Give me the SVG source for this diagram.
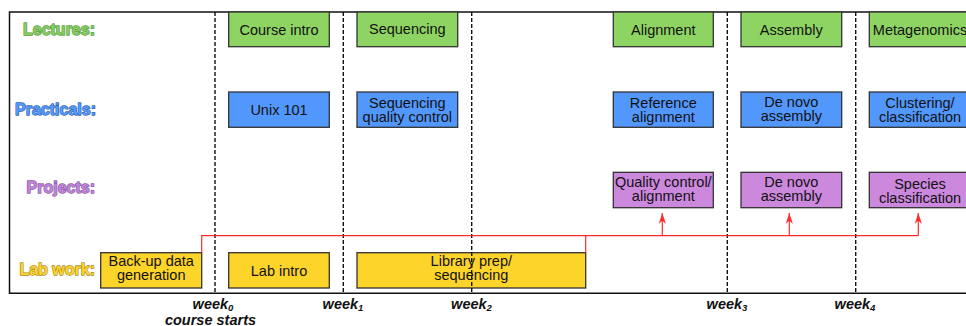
<svg xmlns="http://www.w3.org/2000/svg" width="966" height="326" viewBox="0 0 966 326">
<defs>
<style>
.box{stroke:#333;stroke-width:1.3}
.lec{fill:#8ed462}
.pra{fill:#5297fb}
.proj{fill:#cc88dd}
.lab{fill:#fdd42a}
.bt{font-family:"Liberation Sans",Arial,sans-serif;font-size:14.5px;fill:#111;text-anchor:middle}
.lbl{font-family:"Liberation Sans",Arial,sans-serif;font-size:16px;font-weight:bold;text-anchor:end;stroke-width:1.3;paint-order:stroke;stroke-linejoin:round}
.wk{font-family:"Liberation Sans",Arial,sans-serif;font-size:14.5px;font-weight:bold;font-style:italic;fill:#111;text-anchor:middle}
.dash{stroke:#111;stroke-width:1.4;stroke-dasharray:4 2;fill:none}
.red{stroke:#ff2a2a;stroke-width:1.2;fill:none}
</style>
<marker id="ah" markerUnits="userSpaceOnUse" markerWidth="12" markerHeight="10" viewBox="-11 -5 12 10" refX="0" refY="0" orient="auto">
<path d="M0,0 L-11,-3.6 L-7.5,0 L-11,3.6 Z" fill="#ff2a2a"/>
</marker>
</defs>
<rect width="966" height="326" fill="#fff"/>
<g id="frame"><path d="M975 12 H9.5 V293.3 H975" fill="none" stroke="#111" stroke-width="1.5"/></g>

<g id="row-labels">
<text class="lbl" x="95" y="34.5" fill="#86cc62" stroke="#5a9c3e">Lectures:</text>
<text class="lbl" x="96" y="115" fill="#5599ff" stroke="#3162a8">Practicals:</text>
<text class="lbl" x="95" y="193.3" fill="#c084d8" stroke="#8a58a4">Projects:</text>
<text class="lbl" x="95" y="275" fill="#fdd42a" stroke="#a88a1c">Lab work:</text>
</g>

<g id="n-course-intro"><rect class="box lec" x="228.7" y="12" width="100.6" height="34.7"/><text class="bt" x="279" y="34.5">Course intro</text></g>
<g id="n-sequencing"><rect class="box lec" x="357" y="12" width="100.7" height="34.7"/><text class="bt" x="407.3" y="33.5">Sequencing</text></g>
<g id="n-alignment"><rect class="box lec" x="613.3" y="12" width="100" height="34.7"/><text class="bt" x="663.3" y="34.5">Alignment</text></g>
<g id="n-assembly"><rect class="box lec" x="741" y="12" width="100.7" height="34.7"/><text class="bt" x="791.3" y="34.5">Assembly</text></g>
<g id="n-metagenomics"><rect class="box lec" x="869.3" y="12" width="102" height="34.7"/><text class="bt" x="920" y="34.5">Metagenomics</text></g>

<g id="n-unix"><rect class="box pra" x="228.7" y="92" width="100.6" height="35.3"/><text class="bt" x="279" y="115">Unix 101</text></g>
<g id="n-seqqc"><rect class="box pra" x="357" y="92" width="100.7" height="35.3"/><text class="bt" x="407.3" y="107.5">Sequencing</text><text class="bt" x="407.3" y="121.5">quality control</text></g>
<g id="n-refalign"><rect class="box pra" x="613.3" y="92" width="100" height="35.3"/><text class="bt" x="663.3" y="107.5">Reference</text><text class="bt" x="663.3" y="121.5">alignment</text></g>
<g id="n-denovo-p"><rect class="box pra" x="741" y="92" width="100.7" height="35.3"/><text class="bt" x="791.3" y="106.5">De novo</text><text class="bt" x="791.3" y="120.5">assembly</text></g>
<g id="n-clustering"><rect class="box pra" x="869.3" y="92" width="102" height="35.3"/><text class="bt" x="920" y="107.5">Clustering/</text><text class="bt" x="920" y="121.5">classification</text></g>

<g id="n-qc-align"><rect class="box proj" x="613.3" y="172.3" width="100" height="35.4"/><text class="bt" x="663.3" y="187.3">Quality control/</text><text class="bt" x="663.3" y="201">alignment</text></g>
<g id="n-denovo-proj"><rect class="box proj" x="741" y="172.3" width="100.7" height="35.4"/><text class="bt" x="791.3" y="187.3">De novo</text><text class="bt" x="791.3" y="201">assembly</text></g>
<g id="n-species"><rect class="box proj" x="869.3" y="172.3" width="102" height="35.4"/><text class="bt" x="920" y="189">Species</text><text class="bt" x="920" y="203">classification</text></g>

<g id="n-backup"><rect class="box lab" x="100.7" y="252.7" width="101" height="35.3"/><text class="bt" x="151.2" y="266.3">Back-up data</text><text class="bt" x="151.2" y="280.3">generation</text></g>
<g id="n-labintro"><rect class="box lab" x="228.7" y="252.7" width="100.6" height="35.3"/><text class="bt" x="279" y="275.5">Lab intro</text></g>
<g id="n-libprep"><rect class="box lab" x="357" y="252.7" width="228.7" height="35.3"/><text class="bt" x="471.3" y="266.3">Library prep/</text><text class="bt" x="471.3" y="280.3">sequencing</text></g>

<g id="week-lines">
<line class="dash" x1="215" y1="12" x2="215" y2="293"/>
<line class="dash" x1="343.3" y1="12" x2="343.3" y2="293"/>
<line class="dash" x1="471.7" y1="12" x2="471.7" y2="293"/>
<line class="dash" x1="727.3" y1="12" x2="727.3" y2="293"/>
<line class="dash" x1="855.7" y1="12" x2="855.7" y2="293"/>
</g>

<g id="connectors">
<path class="red" d="M201.7 252.7 V235.7 H918.3"/>
<path class="red" d="M585.7 252.7 V235.7"/>
<path class="red" d="M662.3 235.7 V213" marker-end="url(#ah)"/>
<path class="red" d="M789.3 235.7 V213" marker-end="url(#ah)"/>
<path class="red" d="M918.3 235.7 V213" marker-end="url(#ah)"/>
</g>

<g id="week-labels">
<text class="wk" x="213" y="308.5">week<tspan font-size="9.5" dy="2">0</tspan></text>
<text class="wk" x="210.5" y="324.5">course starts</text>
<text class="wk" x="343" y="308.5">week<tspan font-size="9.5" dy="2">1</tspan></text>
<text class="wk" x="471.5" y="308.5">week<tspan font-size="9.5" dy="2">2</tspan></text>
<text class="wk" x="727" y="308.5">week<tspan font-size="9.5" dy="2">3</tspan></text>
<text class="wk" x="855" y="308.5">week<tspan font-size="9.5" dy="2">4</tspan></text>
</g>
</svg>
